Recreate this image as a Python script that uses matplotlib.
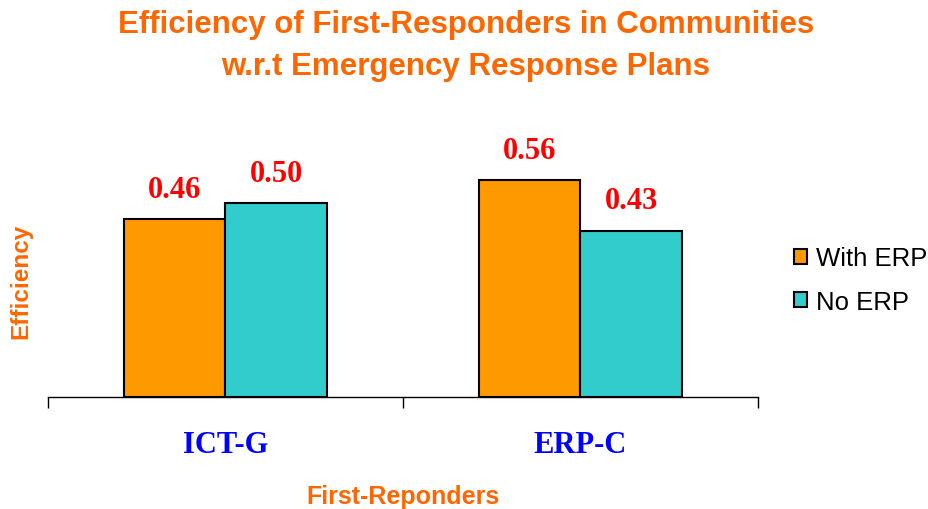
import matplotlib
matplotlib.use("Agg")
import matplotlib.pyplot as plt
import numpy as np

categories = ["ICT-G", "ERP-C"]
series_names = ["With ERP", "No ERP"]
with_erp = [0.46, 0.56]
no_erp = [0.50, 0.43]
colors = ["#FF9900", "#33CCCC"]

fig = plt.figure(figsize=(9.29, 5.10), dpi=100)
ax = fig.add_axes([48/929, 1 - 398/510, 710/929, 271/510])

x = np.arange(len(categories))
w = 0.286
bars1 = ax.bar(x - w/2, with_erp, w, color=colors[0], edgecolor="black", linewidth=1.5, label=series_names[0])
bars2 = ax.bar(x + w/2, no_erp, w, color=colors[1], edgecolor="black", linewidth=1.5, label=series_names[1])

for bars in (bars1, bars2):
    ax.bar_label(bars, fmt="%.2f", padding=11, color="red", fontsize=22,
                 fontweight="bold", family="Liberation Serif")

ax.set_xlim(-0.5, 1.5)
ax.set_ylim(0, 0.7)
for s in ["top", "right", "left"]:
    ax.spines[s].set_visible(False)
ax.spines["bottom"].set_linewidth(1.0)
ax.set_yticks([])

# boundary ticks, labels at category centers
ax.set_xticks([-0.5, 0.5, 1.5])
ax.set_xticklabels([])
ax.tick_params(axis="x", which="major", direction="out", length=8, width=1)
ax.set_xticks(x, minor=True)
ax.set_xticklabels(categories, minor=True, color="#0000FF", fontsize=22,
                   fontweight="bold", family="Liberation Serif")
ax.tick_params(axis="x", which="minor", length=0, pad=24)

ax.set_xlabel("First-Reponders", color="#FF6600", fontsize=18, fontweight="bold",
              family="Liberation Sans")
ax.xaxis.set_label_coords(0.5, -0.32)
ax.set_ylabel("Efficiency", color="#FF6600", fontsize=17.5, fontweight="bold",
              family="Liberation Sans")
ax.yaxis.set_label_coords(-0.022, 0.43)

fig.text(466/929, 1 - 25/510, "Efficiency of First-Responders in Communities",
         ha="center", va="center", color="#FF6600", fontsize=22.5, fontweight="bold",
         family="Liberation Sans")
fig.text(466/929, 1 - 67/510, "w.r.t Emergency Response Plans",
         ha="center", va="center", color="#FF6600", fontsize=22.5, fontweight="bold",
         family="Liberation Sans")

fig.legend(loc="center left", bbox_to_anchor=(771/929, 1 - 281/510), frameon=False,
           prop={"family": "Liberation Sans", "size": 18.5},
           handlelength=0.5, handleheight=0.5, handletextpad=0.35, labelspacing=0.75)

fig.savefig("out.png", dpi=100)
